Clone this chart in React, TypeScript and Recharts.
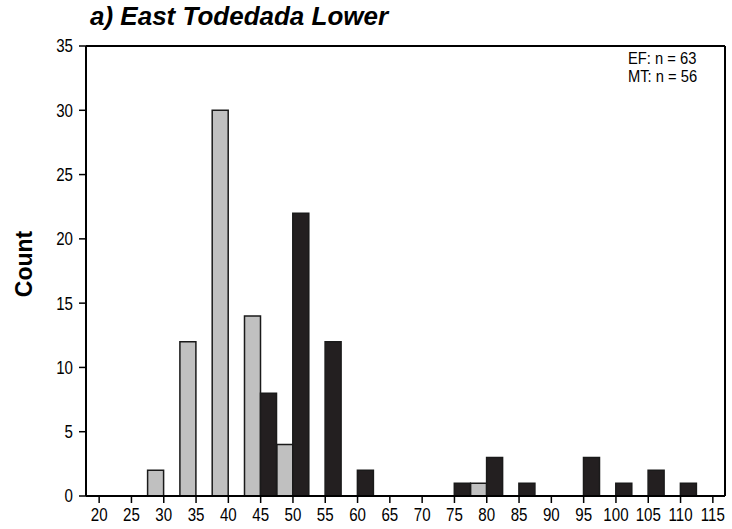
import { Bar, BarChart, ReferenceLine, XAxis, YAxis } from 'recharts';

const bins = [20, 25, 30, 35, 40, 45, 50, 55, 60, 65, 70, 75, 80, 85, 90, 95, 100, 105, 110, 115];
const efCounts = [0, 0, 2, 12, 30, 14, 4, 0, 0, 0, 0, 0, 1, 0, 0, 0, 0, 0, 0, 0];
const mtCounts = [0, 0, 0, 0, 0, 8, 22, 12, 2, 0, 0, 1, 3, 1, 0, 3, 1, 2, 1, 0];
const yTicks = [0, 5, 10, 15, 20, 25, 30, 35];
const notes = ['EF: n = 63', 'MT: n = 56'];

const data = bins.map((b, i) => ({ bin: String(b), ef: efCounts[i], mt: mtCounts[i] }));

const sans = '"Liberation Sans", Arial, sans-serif';

// Arial Narrow look-alike: squeeze Liberation Sans horizontally
function NarrowTick(props: any) {
  const { x, y, payload, textAnchor, vertical } = props;
  return (
    <text
      x={0}
      y={0}
      transform={`translate(${x},${y}) scale(0.84,1)`}
      textAnchor={textAnchor}
      dy={vertical ? '0.36em' : '0.72em'}
      fill="#000"
      fontSize={18}
      fontFamily={sans}
    >
      {payload.value}
    </text>
  );
}

export default function App() {
  return (
    <div style={{ position: 'absolute', left: 0, top: 0, width: 732, height: 529, background: '#fff' }}>
      <div
        style={{
          position: 'absolute',
          left: 90,
          top: 1,
          fontFamily: sans,
          fontWeight: 'bold',
          fontStyle: 'italic',
          fontSize: 26,
          color: '#000',
          whiteSpace: 'nowrap',
        }}
      >
        a) East Todedada Lower
      </div>
      <div
        style={{
          position: 'absolute',
          left: 24,
          top: 264,
          transform: 'translate(-50%, -50%) rotate(-90deg)',
          fontFamily: sans,
          fontWeight: 'bold',
          fontSize: 23,
          whiteSpace: 'nowrap',
        }}
      >
        Count
      </div>
      <BarChart
        width={732}
        height={529}
        data={data}
        barCategoryGap={0}
        barGap={0}
        margin={{ top: 46, right: 7, left: 26, bottom: 0 }}
      >
        <XAxis
          dataKey="bin"
          padding={{ left: -3, right: -4 }}
          interval={0}
          height={33}
          tickSize={7}
          tickMargin={5}
          axisLine={{ stroke: '#000', strokeWidth: 2 }}
          tickLine={{ stroke: '#000', strokeWidth: 1.5 }}
          tick={<NarrowTick />}
        />
        <YAxis
          domain={[0, 35]}
          ticks={yTicks}
          width={60}
          tickSize={7}
          tickMargin={6}
          axisLine={{ stroke: '#000', strokeWidth: 2 }}
          tickLine={{ stroke: '#000', strokeWidth: 1.5 }}
          tick={<NarrowTick vertical />}
        />
        <ReferenceLine y={35} stroke="#000" strokeWidth={2} />
        <Bar dataKey="ef" fill="#c0c0c0" stroke="#1a1a1a" strokeWidth={1.5} isAnimationActive={false} />
        <Bar dataKey="mt" fill="#231f20" stroke="#1a1a1a" strokeWidth={1.5} isAnimationActive={false} />
      </BarChart>
      <div
        style={{
          position: 'absolute',
          left: 724,
          top: 46,
          width: 0,
          height: 450,
          borderRight: '2px solid #000',
        }}
      />
      <div
        style={{
          position: 'absolute',
          left: 628,
          top: 50,
          fontFamily: sans,
          fontSize: 16,
          lineHeight: '18px',
          color: '#000',
          whiteSpace: 'nowrap',
          transform: 'scaleX(0.92)',
          transformOrigin: 'left top',
        }}
      >
        {notes.map((n) => (
          <div key={n}>{n}</div>
        ))}
      </div>
    </div>
  );
}
